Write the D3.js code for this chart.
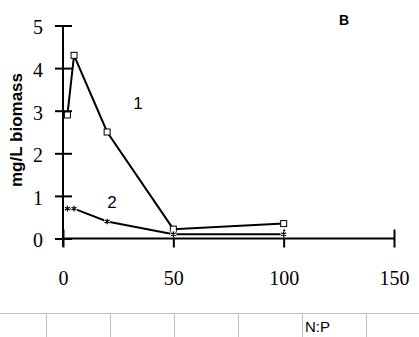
<!DOCTYPE html>
<html><head><meta charset="utf-8">
<script src="https://cdn.jsdelivr.net/npm/d3@7"></script>
<style>body{margin:0;background:#fff}svg{display:block}</style>
</head><body>
<script>
const xTicks = [0, 50, 100, 150];
const yTicks = [0, 1, 2, 3, 4, 5];
const series1X = [2, 5, 20, 50, 100];
const series1Y = [2.9, 4.3, 2.5, 0.22, 0.35];
const series2X = [2, 5, 20, 50, 100];
const series2Y = [0.7, 0.7, 0.4, 0.1, 0.1];
const gridCols = [46, 110, 174, 238, 302, 366];

const W = 419, H = 337;
const svg = d3.select("body").append("svg").attr("width", W).attr("height", H);

const x = d3.scaleLinear().domain([0, 150]).range([63, 394]);
const y = d3.scaleLinear().domain([0, 5]).range([238.5, 25.5]);

// spreadsheet grid at bottom
svg.append("line").attr("x1", 0).attr("x2", W).attr("y1", 313.5).attr("y2", 313.5)
  .attr("stroke", "#c0c0c0").attr("stroke-width", 1);
gridCols.forEach(c => svg.append("line").attr("x1", c + 0.5).attr("x2", c + 0.5)
  .attr("y1", 313).attr("y2", H).attr("stroke", "#c0c0c0").attr("stroke-width", 1));
svg.append("text").attr("x", 305).attr("y", 332).text("N:P")
  .attr("font-family", "Liberation Sans, Arial, sans-serif").attr("font-size", 15).attr("fill", "#000");

// axes
const yAxis = svg.append("g").attr("transform", `translate(${x(0)},0)`)
  .call(d3.axisLeft(y).tickValues(yTicks).tickSize(8).tickPadding(12).tickFormat(d3.format("d")));
yAxis.selectAll(".tick line").attr("x1", 9).attr("x2", -8);
yAxis.select(".domain").attr("d", `M0,${y(5)}V${y(0) + 8}`);

const xAxis = svg.append("g").attr("transform", `translate(0,${y(0)})`)
  .call(d3.axisBottom(x).tickValues(xTicks).tickSize(8).tickPadding(24).tickFormat(d3.format("d")));
xAxis.selectAll(".tick line").attr("y1", -9).attr("y2", 9);
xAxis.select(".domain").attr("d", `M${x(0)},0H${x(150)}`);

[yAxis, xAxis].forEach(a => {
  a.selectAll("path, line").attr("stroke", "#000").attr("stroke-width", 2);
  a.selectAll("text").attr("font-family", "Liberation Serif, Times New Roman, serif")
    .attr("font-size", 20).attr("fill", "#000");
});
yAxis.selectAll("text").attr("dy", "0.42em");

const line = d3.line().x(d => x(d[0])).y(d => y(d[1]));
const s1 = series1X.map((v, i) => [v, series1Y[i]]);
const s2 = series2X.map((v, i) => [v, series2Y[i]]);

svg.append("path").datum(s1).attr("d", line).attr("fill", "none")
  .attr("stroke", "#000").attr("stroke-width", 2);
svg.append("path").datum(s2).attr("d", line).attr("fill", "none")
  .attr("stroke", "#000").attr("stroke-width", 2);

svg.selectAll(".sq").data(s1).enter().append("rect")
  .attr("x", d => x(d[0]) - 3).attr("y", d => y(d[1]) - 3)
  .attr("width", 6).attr("height", 6).attr("fill", "#fff")
  .attr("stroke", "#000").attr("stroke-width", 1);

const ast = d3.symbol().type(d3.symbolAsterisk).size(22);
svg.selectAll(".as").data(s2).enter().append("g")
  .attr("transform", d => `translate(${x(d[0])},${y(d[1])})`)
  .each(function () {
    d3.select(this).append("rect").attr("x", -3).attr("y", -3).attr("width", 6).attr("height", 6).attr("fill", "#fff");
    d3.select(this).append("path").attr("d", ast).attr("fill", "none").attr("stroke", "#000").attr("stroke-width", 1.2);
  });

// labels
svg.append("text").attr("transform", "translate(22,130) rotate(-90)")
  .attr("text-anchor", "middle").text("mg/L biomass")
  .attr("font-family", "Liberation Sans, Arial, sans-serif").attr("font-weight", "bold")
  .attr("font-size", 17).attr("fill", "#000");
svg.append("text").attr("x", 138).attr("y", 109).attr("text-anchor", "middle").text("1")
  .attr("font-family", "Liberation Sans, Arial, sans-serif").attr("font-size", 17).attr("fill", "#000");
svg.append("text").attr("x", 112).attr("y", 208).attr("text-anchor", "middle").text("2")
  .attr("font-family", "Liberation Sans, Arial, sans-serif").attr("font-size", 17).attr("fill", "#000");
svg.append("text").attr("x", 344).attr("y", 25).attr("text-anchor", "middle").text("B")
  .attr("font-family", "Liberation Sans, Arial, sans-serif").attr("font-weight", "bold")
  .attr("font-size", 14).attr("fill", "#000");
</script>
</body></html>
